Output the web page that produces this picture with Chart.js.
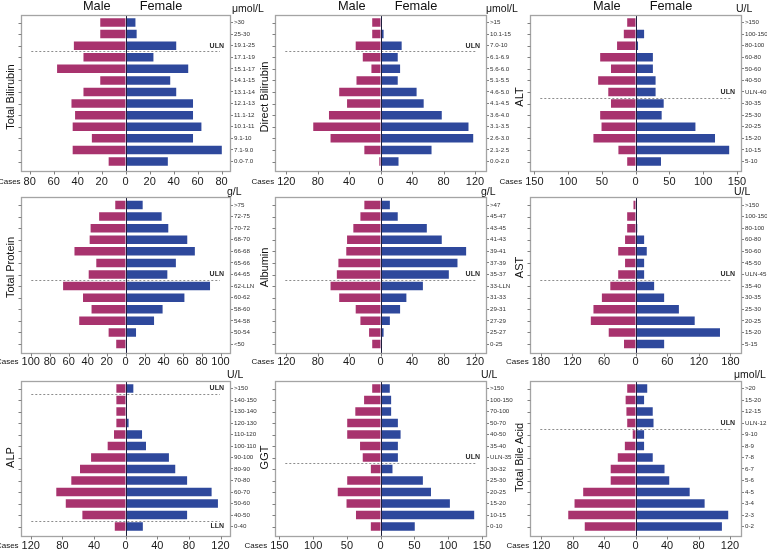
<!DOCTYPE html>
<html><head><meta charset="utf-8">
<script src="https://cdn.jsdelivr.net/npm/chart.js@4.4.1/dist/chart.umd.min.js"></script>
<style>
html,body{margin:0;padding:0;background:#fff;overflow:hidden;}
#wrap{position:relative;width:767px;height:550px;overflow:hidden;background:#fff;}
#wrap canvas{position:absolute;}
</style></head><body><div id="wrap"></div>
<script>
// ---------------- data ----------------
const tbilCats   = ['>30','25-30','19.1-25','17.1-19','15.1-17','14.1-15','13.1-14','12.1-13','11.1-12','10.1-11','9.1-10','7.1-9.0','0.0-7.0'];
const tbilMale   = [22,22,44,36,58,22,36,46,43,45,29,45,15];
const tbilFemale = [9,10,43,24,53,38,43,57,57,64,57,81,36];
const tbilTicks  = [-80,-60,-40,-20,0,20,40,60,80];

const dbilCats   = ['>15','10.1-15','7.0-10','6.1-6.9','5.6-6.0','5.1-5.5','4.6-5.0','4.1-4.5','3.6-4.0','3.1-3.5','2.6-3.0','2.1-2.5','0.0-2.0'];
const dbilMale   = [12,12,33,24,13,32,54,44,67,87,65,22,3];
const dbilFemale = [1,5,28,23,26,23,47,56,79,113,119,66,24];
const dbilTicks  = [-120,-80,-40,0,40,80,120];

const altCats    = ['>150','100-150','80-100','60-80','50-60','40-50','ULN-40','30-35','25-30','20-25','15-20','10-15','5-10'];
const altMale    = [14,19,29,54,38,57,42,38,54,52,64,27,14];
const altFemale  = [2,14,5,27,27,31,31,43,40,90,119,140,39];
const altTicks   = [-150,-100,-50,0,50,100,150];

const tpCats     = ['>75','72-75','70-72','68-70','66-68','65-66','64-65','62-LLN','60-62','58-60','54-58','50-54','<50'];
const tpMale     = [12,29,38,39,55,32,40,67,46,37,50,19,11];
const tpFemale   = [19,39,46,66,74,54,45,90,63,40,31,12,2];
const tpTicks    = [-100,-80,-60,-40,-20,0,20,40,60,80,100];

const albCats    = ['>47','45-47','43-45','41-43','39-41','37-39','35-37','33-LLN','31-33','29-31','27-29','25-27','0-25'];
const albMale    = [22,27,36,44,45,55,57,65,54,33,27,16,12];
const albFemale  = [13,23,60,79,110,99,88,55,34,26,13,5,3];
const albTicks   = [-120,-80,-40,0,40,80,120];

const astCats    = ['>150','100-150','80-100','60-80','50-60','45-50','ULN-45','35-40','30-35','25-30','20-25','15-20','5-15'];
const astMale    = [6,18,18,22,35,22,35,50,66,82,87,53,24];
const astFemale  = [1,1,5,18,23,18,18,37,56,84,114,162,56];
const astTicks   = [-180,-120,-60,0,60,120,180];

const alpCats    = ['>150','140-150','130-140','120-130','110-120','100-110','90-100','80-90','70-80','60-70','50-60','40-50','0-40'];
const alpMale    = [13,13,13,13,16,24,45,59,70,89,77,56,15];
const alpFemale  = [11,1,2,5,22,27,56,64,79,110,118,79,23];
const alpTicks   = [-120,-80,-40,0,40,80,120];

const ggtCats    = ['>150','100-150','70-100','50-70','40-50','35-40','ULN-35','30-32','25-30','20-25','15-20','10-15','0-10'];
const ggtMale    = [14,26,39,51,51,32,28,16,51,65,52,38,16];
const ggtFemale  = [15,17,17,27,31,27,27,19,64,76,104,140,52];
const ggtTicks   = [-150,-100,-50,0,50,100,150];

const tbaCats    = ['>20','15-20','12-15','ULN-12','9-10','8-9','7-8','6-7','5-6','4-5','3-4','2-3','0-2'];
const tbaMale    = [12,14,13,12,5,15,24,33,33,68,79,87,66];
const tbaFemale  = [16,12,23,24,12,12,23,38,44,70,89,119,111];
const tbaTicks   = [-120,-80,-40,0,40,80,120];

// ---------------- panels ----------------
const panels = [
  {title:'Total Bilirubin', unit:'μmol/L', cats:tbilCats, male:tbilMale, female:tbilFemale, ticks:tbilTicks, ext:87,  refs:[{after:2,label:'ULN',pos:'above'}]},
  {title:'Direct Bilirubin',unit:'μmol/L', cats:dbilCats, male:dbilMale, female:dbilFemale, ticks:dbilTicks, ext:134, refs:[{after:2,label:'ULN',pos:'above'}]},
  {title:'ALT',             unit:'U/L',    cats:altCats,  male:altMale,  female:altFemale,  ticks:altTicks,  ext:156, refs:[{after:6,label:'ULN',pos:'above'}]},
  {title:'Total Protein',   unit:'g/L',    cats:tpCats,   male:tpMale,   female:tpFemale,   ticks:tpTicks,   ext:110, refs:[{after:6,label:'ULN',pos:'above'}]},
  {title:'Albumin',         unit:'g/L',    cats:albCats,  male:albMale,  female:albFemale,  ticks:albTicks,  ext:134, refs:[{after:6,label:'ULN',pos:'above'}]},
  {title:'AST',             unit:'U/L',    cats:astCats,  male:astMale,  female:astFemale,  ticks:astTicks,  ext:200, refs:[{after:6,label:'ULN',pos:'above'}]},
  {title:'ALP',             unit:'U/L',    cats:alpCats,  male:alpMale,  female:alpFemale,  ticks:alpTicks,  ext:132, refs:[{after:0,label:'ULN',pos:'above'},{after:11,label:'LLN',pos:'below'}]},
  {title:'GGT',             unit:'U/L',    cats:ggtCats,  male:ggtMale,  female:ggtFemale,  ticks:ggtTicks,  ext:156, refs:[{after:6,label:'ULN',pos:'above'}]},
  {title:'Total Bile Acid', unit:'μmol/L', cats:tbaCats,  male:tbaMale,  female:tbaFemale,  ticks:tbaTicks,  ext:134, refs:[{after:3,label:'ULN',pos:'above'}]}
];

// ---------------- layout ----------------
const colX = [0,256,511], rowY = [0,183,366];
const colL = [21.3,275.3,530.3], colR = [230,486,741];
const rowC0 = [22.5,205,388.5], rowC12 = [161.5,344,526.5];
const rowTitleY = [97,267.5,457.5];
const rowTickY = [182,361.7,546.2];
const unitDx = [2,0,-5,-3,-5,-7,-3,-5,-7];

function hasFont(name){
  const c=document.createElement('canvas').getContext('2d');
  c.font="40px monospace"; const b=c.measureText('Female 0123 abc').width;
  c.font="40px '"+name+"', monospace"; return Math.abs(c.measureText('Female 0123 abc').width-b)>0.5;
}
const NARROW = hasFont('Liberation Sans Narrow');
const FAM = NARROW ? "'Liberation Sans Narrow', 'Liberation Sans', sans-serif" : "'Liberation Sans', Arial, sans-serif";
const FS = NARROW
  ? {tick:11.5, cat:7, title:13, head:15, unit:12, cases:9, ref:8}
  : {tick:11, cat:6.2, title:11, head:12.8, unit:10.5, cases:8, ref:7};

const MALE = '#A8336E', FEMALE = '#2E489C';
const EDGE = 'rgba(255,255,255,0.4)';

function makeDeco(p, i, r, cT){
  return {
    id:'deco',
    afterDatasetsDraw(chart){
      const {ctx, chartArea:ca, scales:{x,y}} = chart;
      const n = p.cats.length;
      const fT = Math.round(y.getPixelForValue(0)-8)+0.5, fB = Math.round(y.getPixelForValue(n-1)+9)+0.5;
      ctx.save();
      ctx.strokeStyle='#8c8c8c'; ctx.lineWidth=1; ctx.setLineDash([2,2]);
      p.refs.forEach(ref=>{
        const yy=Math.round((y.getPixelForValue(ref.after)+y.getPixelForValue(ref.after+1))/2)+0.5;
        ctx.beginPath(); ctx.moveTo(ca.left+10,yy); ctx.lineTo(ca.right-10,yy); ctx.stroke();
      });
      ctx.setLineDash([]);
      const x0=Math.round(x.getPixelForValue(0))+0.5;
      ctx.strokeStyle='#1e1e3c'; ctx.lineWidth=1;
      ctx.beginPath(); ctx.moveTo(x0,fT); ctx.lineTo(x0,fB); ctx.stroke();
      const fl=Math.round(ca.left)+0.5, fr=Math.round(ca.right)+0.5;
      ctx.strokeStyle='#a4a4a4'; ctx.lineWidth=1.3;
      ctx.strokeRect(fl,fT,fr-fl,fB-fT);
      ctx.strokeStyle='#808080'; ctx.lineWidth=1;
      for(let k=0;k<n;k++){const yy=Math.round(y.getPixelForValue(k))+0.5; ctx.beginPath(); ctx.moveTo(fl-3,yy); ctx.lineTo(fl,yy); ctx.stroke();}
      p.ticks.forEach(v=>{const xx=Math.round(x.getPixelForValue(v))+0.5; ctx.beginPath(); ctx.moveTo(xx,fB); ctx.lineTo(xx,fB+3); ctx.stroke();});
      ctx.fillStyle='#2a2a2a'; ctx.font='bold '+FS.ref+'px '+FAM; ctx.textAlign='right'; ctx.textBaseline='middle';
      p.refs.forEach(ref=>{
        const idx = ref.pos==='above'?ref.after:ref.after+1;
        ctx.fillText(ref.label, ca.right-6, y.getPixelForValue(idx));
      });
      ctx.restore();
    },
    afterDraw(chart){
      const {ctx, chartArea:ca, scales:{x,y}} = chart;
      const fT = y.getPixelForValue(0)-8;
      const x0 = x.getPixelForValue(0);
      ctx.save();
      ctx.fillStyle='#111';
      if(r===0){
        ctx.font=FS.head+'px '+FAM; ctx.textBaseline='alphabetic';
        ctx.textAlign='right'; ctx.fillText('Male', x0-15, fT-4.5);
        ctx.textAlign='left'; ctx.fillText('Female', x0+14, fT-4.5);
      }
      ctx.font=FS.unit+'px '+FAM; ctx.textAlign='left'; ctx.textBaseline='alphabetic';
      ctx.fillText(p.unit, ca.right+unitDx[i], fT-2.5);
      ctx.save();
      ctx.translate(ca.left-10, rowTitleY[r]-cT);
      ctx.rotate(-Math.PI/2);
      ctx.font=FS.title+'px '+FAM; ctx.textAlign='center'; ctx.textBaseline='middle';
      ctx.fillText(p.title,0,0);
      ctx.restore();
      ctx.font=FS.tick+'px '+FAM;
      const lw = ctx.measureText(String(Math.abs(p.ticks[0]))).width;
      let ty = rowTickY[r]-cT, tb='middle';
      try{
        const items = x.getLabelItems();
        if(items && items.length){ ty = items[0].options.translation[1] + (items[0].textOffset||0); tb = items[0].options.textBaseline; }
      }catch(e){}
      const cx = x.getPixelForValue(p.ticks[0]) - lw/2 - 3;
      ctx.font=FS.cases+'px '+FAM; ctx.textAlign='right'; ctx.textBaseline=tb;
      ctx.fillText('Cases', cx, ty);
      ctx.restore();
    }
  };
}

const wrap = document.getElementById('wrap');
panels.forEach((p,i)=>{
  const r=Math.floor(i/3), c=i%3;
  const cL=colX[c]-20, cT=rowY[r], cW=300, cH=195;
  const cv=document.createElement('canvas');
  cv.width=cW; cv.height=cH;
  cv.style.left=cL+'px'; cv.style.top=cT+'px'; cv.style.width=cW+'px'; cv.style.height=cH+'px';
  wrap.appendChild(cv);
  const s=(rowC12[r]-rowC0[r])/12;
  const T=rowC0[r]-s/2, B=rowC12[r]+s/2, L=colL[c], R=colR[c];
  const YW=40, XH=25;
  const pad={left:L-cL, top:T-cT, right:cW-(R-cL)-YW, bottom:cH-(B-cT)-XH};
  const tickPad = rowTickY[r]-B-0.6*FS.tick;
  new Chart(cv,{
    type:'bar',
    data:{labels:p.cats, datasets:[
      {label:'Male', data:p.male.map(v=>-v), backgroundColor:MALE, borderColor:EDGE, borderWidth:1, categoryPercentage:1, barPercentage:0.9},
      {label:'Female', data:p.female, backgroundColor:FEMALE, borderColor:EDGE, borderWidth:1, categoryPercentage:1, barPercentage:0.9}
    ]},
    options:{
      indexAxis:'y', responsive:false, maintainAspectRatio:false, animation:false, devicePixelRatio:1,
      layout:{padding:pad},
      plugins:{legend:{display:false}, tooltip:{enabled:false}, title:{display:false}},
      scales:{
        x:{type:'linear', stacked:true, min:-p.ext, max:p.ext,
           grid:{display:false, drawTicks:false, tickLength:0}, border:{display:false},
           afterBuildTicks:(sc)=>{sc.ticks=p.ticks.map(v=>({value:v}));},
           afterFit:(sc)=>{sc.height=XH;},
           ticks:{autoSkip:false, maxRotation:0, minRotation:0, padding:tickPad, color:'#1a1a1a',
                  font:{family:FAM, size:FS.tick}, callback:(v)=>String(Math.abs(v))}},
        y:{type:'category', stacked:true, position:'right', offset:true,
           grid:{offset:false, drawOnChartArea:false, drawTicks:true, tickLength:3, color:'#808080'},
           border:{display:false},
           afterFit:(sc)=>{sc.width=YW;},
           ticks:{autoSkip:false, padding:1, color:'#333', font:{family:FAM, size:FS.cat}}}
      }
    },
    plugins:[makeDeco(p,i,r,cT)]
  });
});
</script></body></html>
